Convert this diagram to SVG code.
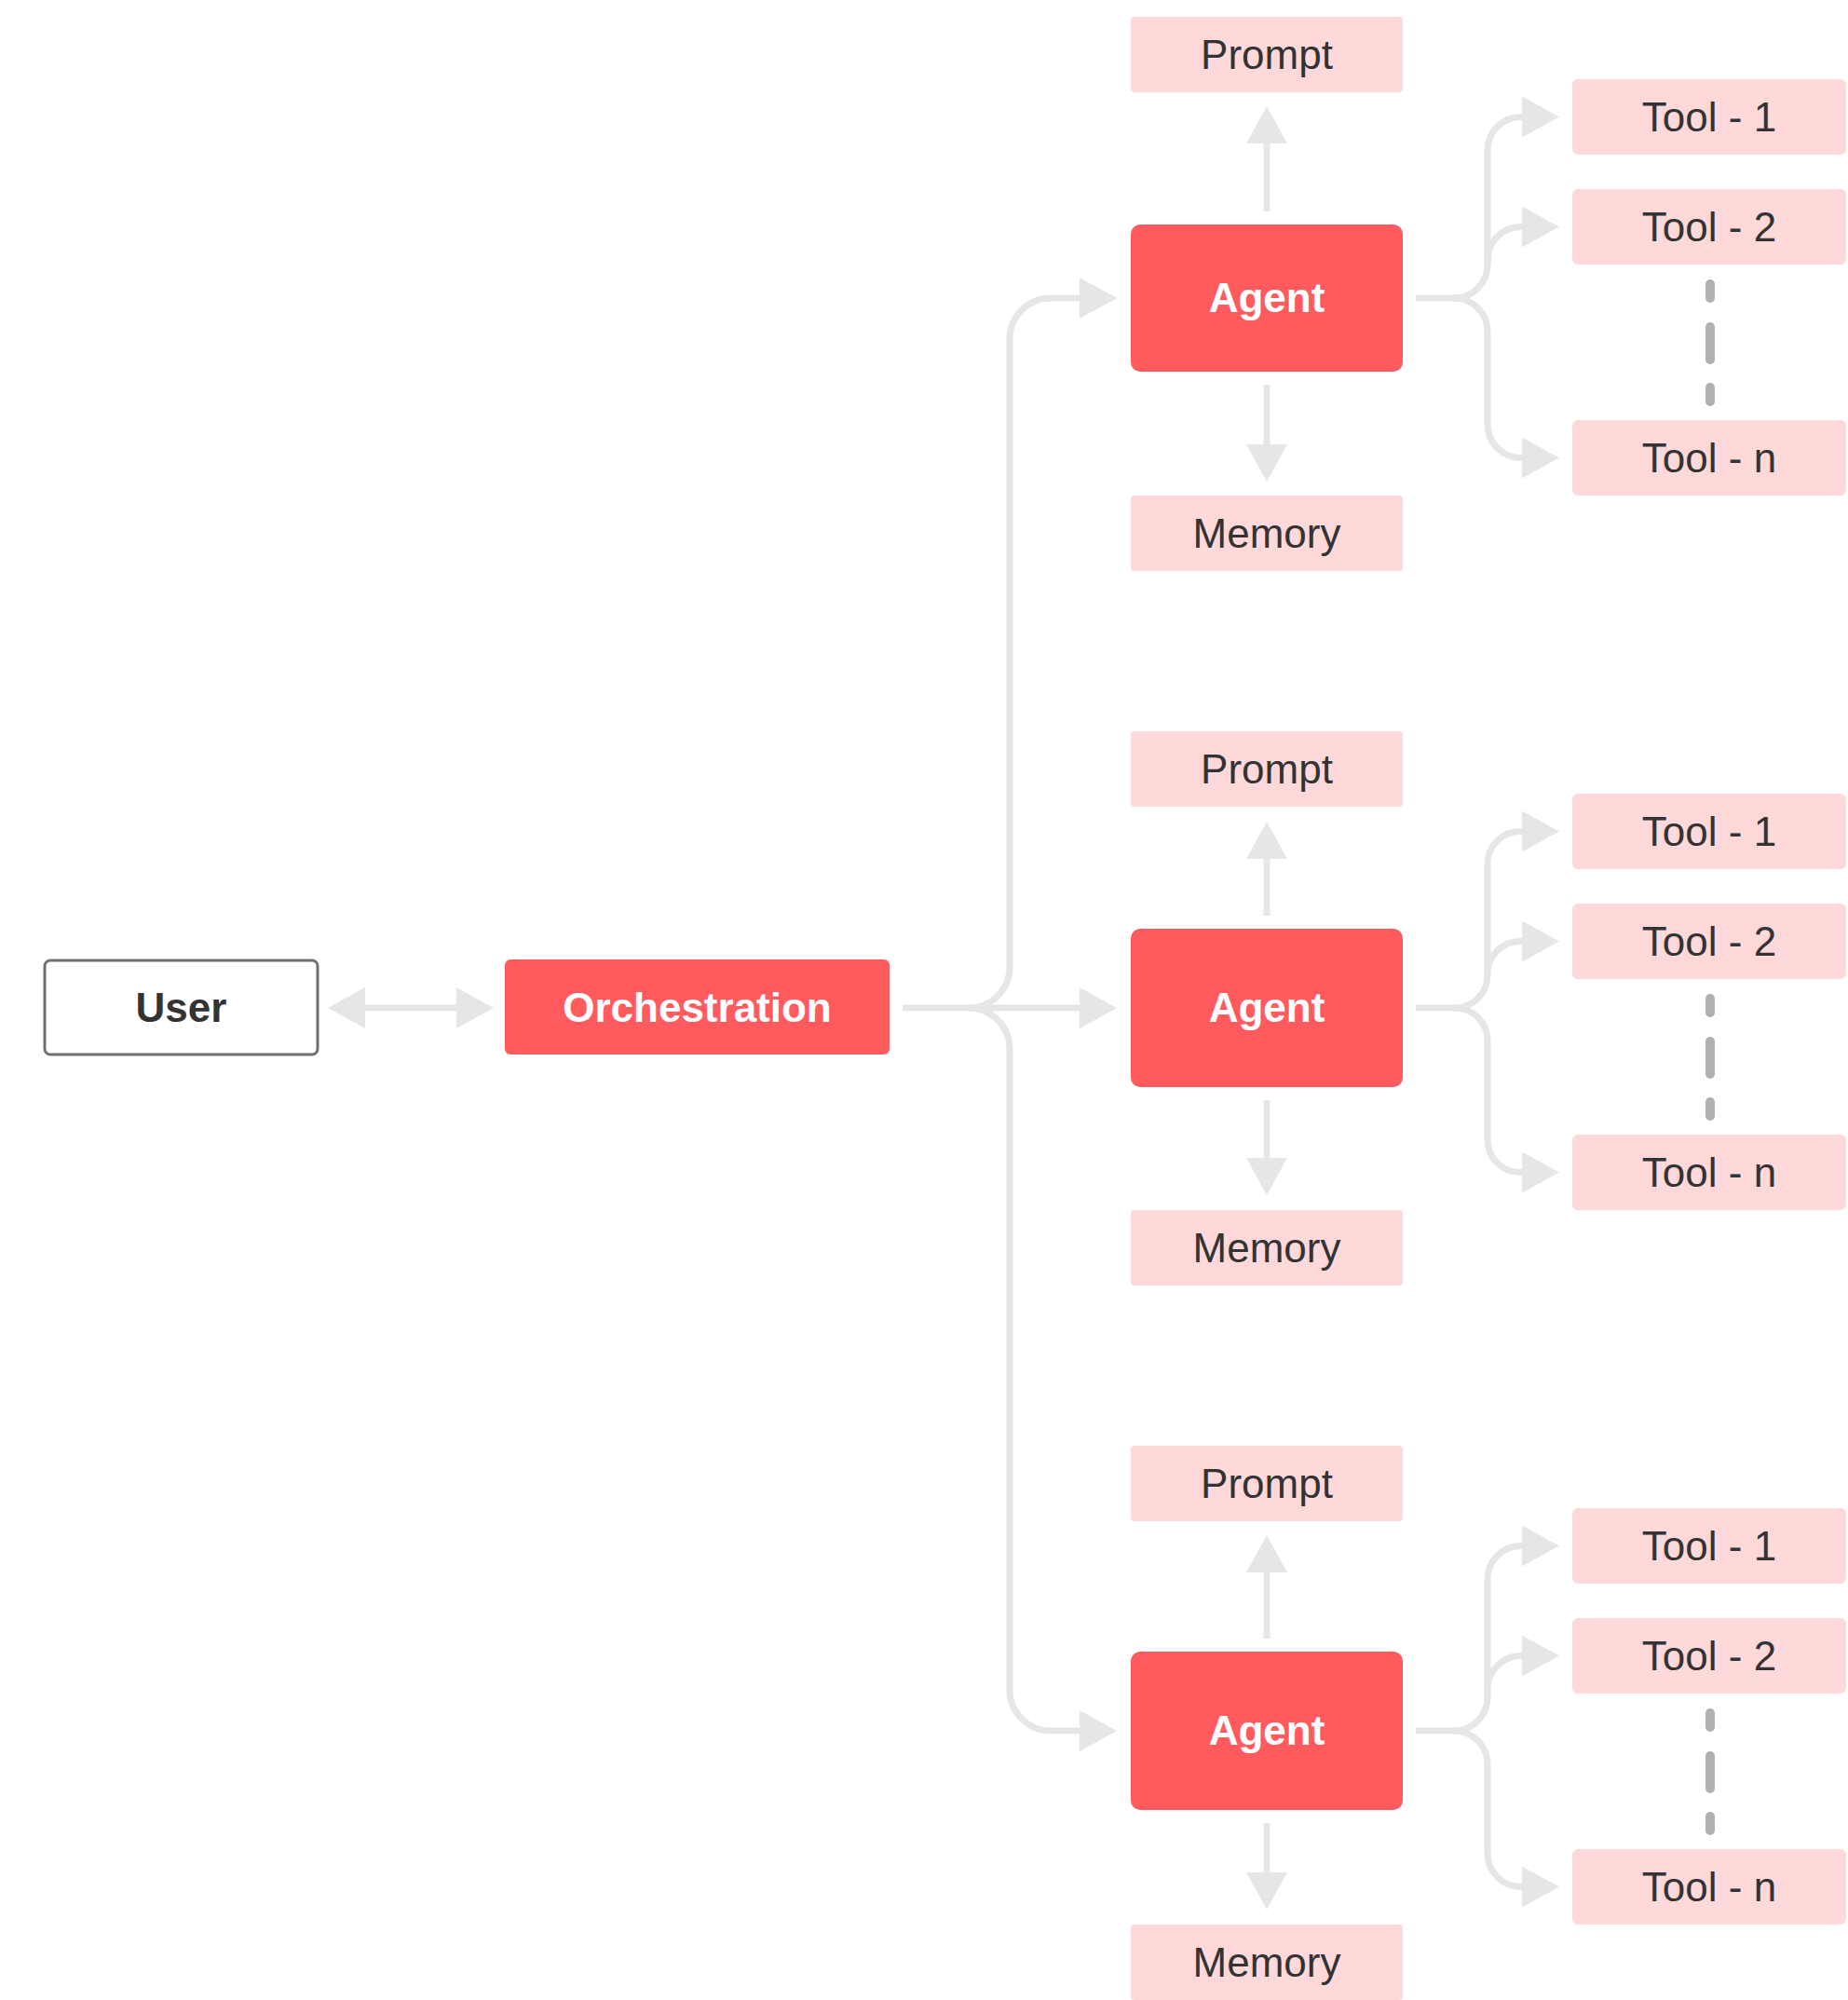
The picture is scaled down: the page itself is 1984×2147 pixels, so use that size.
<svg xmlns="http://www.w3.org/2000/svg" width="1984" height="2147" viewBox="0 0 1984 2147">
  <defs>
    <style>
      .label { font-family: "Liberation Sans", Arial, Helvetica, sans-serif; font-size: 44px; text-anchor: middle; }
      .dark { fill: #333333; }
      .light { fill: #ffffff; font-weight: bold; }
      .bold { font-weight: bold; }
      .core { fill: #ff5b5f; }
      .part { fill: #ffd8d9; }
      .user { fill: #ffffff; stroke: #707070; stroke-width: 3; }
      .link { fill: none; stroke: #e6e6e6; stroke-width: 7; }
      .arrow { marker-end: url(#head); }
      .dash { stroke: #b0b0b0; stroke-width: 10; stroke-linecap: round; }
    </style>
    <marker id="head" viewBox="0 -22 40 44" refX="0" refY="0" markerWidth="40" markerHeight="44" markerUnits="userSpaceOnUse" orient="auto-start-reverse">
      <path d="M0,-22 L40,0 L0,22 Z" fill="#e6e6e6"/>
    </marker>
  </defs>

  <rect width="1984" height="2147" fill="#ffffff"/>

  <!-- connectors -->
  <g id="connectors">
    <!-- user <-> orchestration -->
    <path class="link" d="M392,1082 H490" marker-start="url(#head)" marker-end="url(#head)"/>
    <!-- orchestration -> agents -->
    <path class="link arrow" d="M969,1082 H1159"/>
    <path class="link arrow" d="M1040,1082 A44,44 0 0 0 1084,1038 V364 A44,44 0 0 1 1128,320 H1159"/>
    <path class="link arrow" d="M1040,1082 A44,44 0 0 1 1084,1126 V1814 A44,44 0 0 0 1128,1858 H1159"/>

    <!-- agent 1: prompt / memory -->
    <path class="link arrow" d="M1360,227 V154"/>
    <path class="link arrow" d="M1360,413 V477"/>
    <!-- agent 1: tools -->
    <path class="link arrow" d="M1520,320 H1561 A36,36 0 0 0 1597,284 V161.5 A36,36 0 0 1 1633,125.5 H1634"/>
    <path class="link arrow" d="M1597,284 V279.5 A36,36 0 0 1 1633,243.5 H1634"/>
    <path class="link arrow" d="M1561,320 A36,36 0 0 1 1597,356 V455.5 A36,36 0 0 0 1633,491.5 H1634"/>
    <line class="dash" x1="1836" y1="305" x2="1836" y2="320"/>
    <line class="dash" x1="1836" y1="351" x2="1836" y2="386"/>
    <line class="dash" x1="1836" y1="416" x2="1836" y2="431"/>

    <!-- agent 2: prompt / memory -->
    <path class="link arrow" d="M1360,983 V922"/>
    <path class="link arrow" d="M1360,1181 V1243"/>
    <!-- agent 2: tools -->
    <path class="link arrow" d="M1520,1082 H1562 A35,35 0 0 0 1597,1047 V927.5 A35,35 0 0 1 1632,892.5 H1634"/>
    <path class="link arrow" d="M1597,1047 V1045.5 A35,35 0 0 1 1632,1010.5 H1634"/>
    <path class="link arrow" d="M1562,1082 A35,35 0 0 1 1597,1117 V1223.5 A35,35 0 0 0 1632,1258.5 H1634"/>
    <line class="dash" x1="1836" y1="1072" x2="1836" y2="1087"/>
    <line class="dash" x1="1836" y1="1118" x2="1836" y2="1153"/>
    <line class="dash" x1="1836" y1="1183" x2="1836" y2="1198"/>

    <!-- agent 3: prompt / memory -->
    <path class="link arrow" d="M1360,1759 V1688"/>
    <path class="link arrow" d="M1360,1957 V2010"/>
    <!-- agent 3: tools -->
    <path class="link arrow" d="M1520,1858 H1561 A36,36 0 0 0 1597,1822 V1695.5 A36,36 0 0 1 1633,1659.5 H1634"/>
    <path class="link arrow" d="M1597,1822 V1813.5 A36,36 0 0 1 1633,1777.5 H1634"/>
    <path class="link arrow" d="M1561,1858 A36,36 0 0 1 1597,1894 V1989.5 A36,36 0 0 0 1633,2025.5 H1634"/>
    <line class="dash" x1="1836" y1="1839" x2="1836" y2="1854"/>
    <line class="dash" x1="1836" y1="1885" x2="1836" y2="1920"/>
    <line class="dash" x1="1836" y1="1950" x2="1836" y2="1965"/>
  </g>

  <!-- user and orchestration -->
  <g id="user">
    <rect class="user" x="48" y="1031" width="293" height="101" rx="6"/>
    <text class="label dark bold" x="194.5" y="1097">User</text>
  </g>
  <g id="orchestration">
    <rect class="core" x="542" y="1030" width="413" height="102" rx="6"/>
    <text class="label light" x="748.5" y="1097">Orchestration</text>
  </g>

  <!-- agent 1 -->
  <g id="agent-1">
    <rect class="core" x="1214" y="241" width="292" height="158" rx="10"/>
    <text class="label light" x="1360" y="335">Agent</text>
  </g>
  <g id="prompt-1">
    <rect class="part" x="1214" y="18" width="292" height="81" rx="4"/>
    <text class="label dark" x="1360" y="73.5">Prompt</text>
  </g>
  <g id="memory-1">
    <rect class="part" x="1214" y="532" width="292" height="81" rx="4"/>
    <text class="label dark" x="1360" y="587.5">Memory</text>
  </g>
  <g id="tool-1-1">
    <rect class="part" x="1688" y="85" width="294" height="81" rx="6"/>
    <text class="label dark" x="1835" y="140.5">Tool - 1</text>
  </g>
  <g id="tool-1-2">
    <rect class="part" x="1688" y="203" width="294" height="81" rx="6"/>
    <text class="label dark" x="1835" y="258.5">Tool - 2</text>
  </g>
  <g id="tool-1-n">
    <rect class="part" x="1688" y="451" width="294" height="81" rx="6"/>
    <text class="label dark" x="1835" y="506.5">Tool - n</text>
  </g>

  <!-- agent 2 -->
  <g id="agent-2">
    <rect class="core" x="1214" y="997" width="292" height="170" rx="10"/>
    <text class="label light" x="1360" y="1097">Agent</text>
  </g>
  <g id="prompt-2">
    <rect class="part" x="1214" y="785" width="292" height="81" rx="4"/>
    <text class="label dark" x="1360" y="840.5">Prompt</text>
  </g>
  <g id="memory-2">
    <rect class="part" x="1214" y="1299" width="292" height="81" rx="4"/>
    <text class="label dark" x="1360" y="1354.5">Memory</text>
  </g>
  <g id="tool-2-1">
    <rect class="part" x="1688" y="852" width="294" height="81" rx="6"/>
    <text class="label dark" x="1835" y="907.5">Tool - 1</text>
  </g>
  <g id="tool-2-2">
    <rect class="part" x="1688" y="970" width="294" height="81" rx="6"/>
    <text class="label dark" x="1835" y="1025.5">Tool - 2</text>
  </g>
  <g id="tool-2-n">
    <rect class="part" x="1688" y="1218" width="294" height="81" rx="6"/>
    <text class="label dark" x="1835" y="1273.5">Tool - n</text>
  </g>

  <!-- agent 3 -->
  <g id="agent-3">
    <rect class="core" x="1214" y="1773" width="292" height="170" rx="10"/>
    <text class="label light" x="1360" y="1873">Agent</text>
  </g>
  <g id="prompt-3">
    <rect class="part" x="1214" y="1552" width="292" height="81" rx="4"/>
    <text class="label dark" x="1360" y="1607.5">Prompt</text>
  </g>
  <g id="memory-3">
    <rect class="part" x="1214" y="2066" width="292" height="81" rx="4"/>
    <text class="label dark" x="1360" y="2121.5">Memory</text>
  </g>
  <g id="tool-3-1">
    <rect class="part" x="1688" y="1619" width="294" height="81" rx="6"/>
    <text class="label dark" x="1835" y="1674.5">Tool - 1</text>
  </g>
  <g id="tool-3-2">
    <rect class="part" x="1688" y="1737" width="294" height="81" rx="6"/>
    <text class="label dark" x="1835" y="1792.5">Tool - 2</text>
  </g>
  <g id="tool-3-n">
    <rect class="part" x="1688" y="1985" width="294" height="81" rx="6"/>
    <text class="label dark" x="1835" y="2040.5">Tool - n</text>
  </g>
</svg>
